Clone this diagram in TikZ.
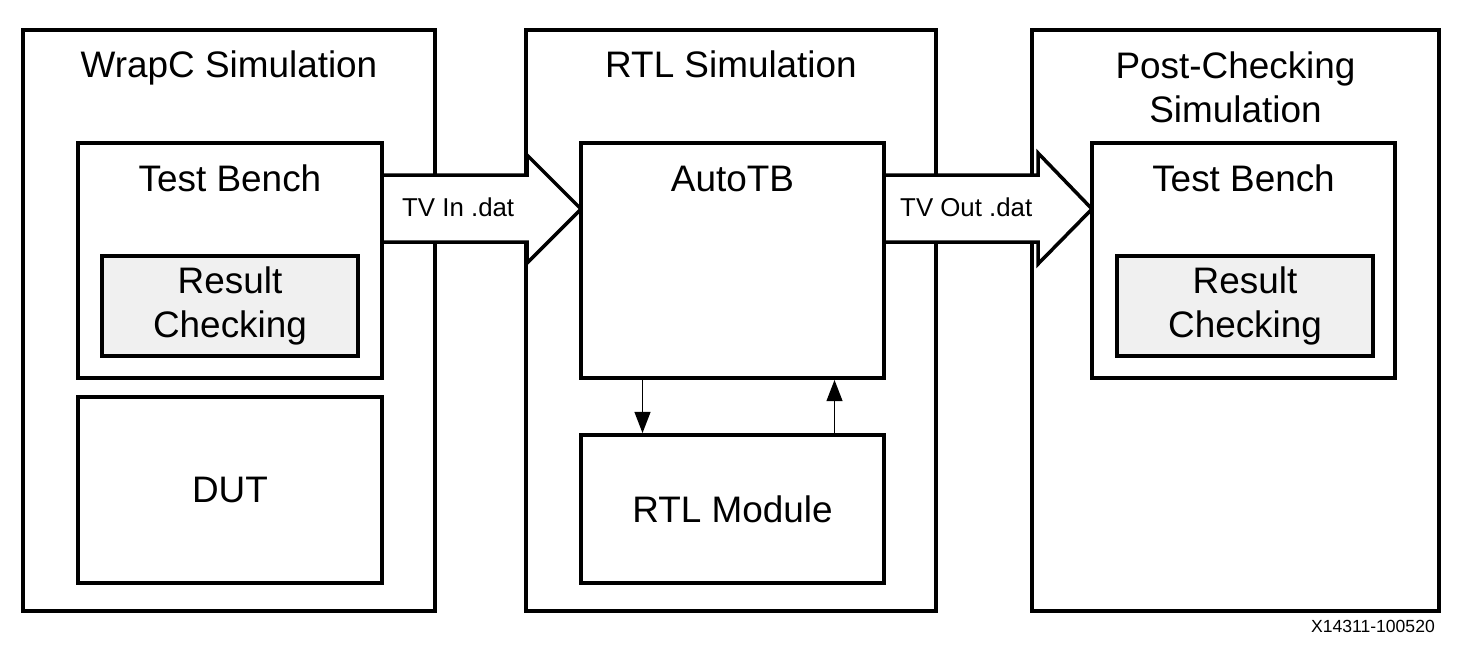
\documentclass[tikz,border=0pt]{standalone}
\usepackage{fontspec}
\setmainfont{Liberation Sans}
\usetikzlibrary{arrows.meta,calc}
\pgfdeclarelayer{background}
\pgfdeclarelayer{flow}
\pgfsetlayers{background,flow,main}
\definecolor{checkgray}{HTML}{F0F0F0}
\tikzset{
	wh/.style 2 args={minimum width=#1*0.02cm,minimum height=#2*0.02cm},
	simbox/.style={draw,line width=2.5pt,inner sep=0pt,outer sep=0pt},
	blockbox/.style={draw,line width=2.3pt,inner sep=0pt,outer sep=0pt,fill=white,align=center,bigtext},
	checkbox/.style={blockbox,fill=checkgray},
	bigarrow/.style={draw,fill=white,line width=2pt,line join=miter},
	bigtext/.style={font=\fontsize{21}{25}\selectfont},
	arrowtext/.style={font=\fontsize{14.7}{17}\selectfont},
}
\begin{document}
\begin{tikzpicture}[x=0.02cm,y=-0.02cm,line join=miter,>={Triangle[length=12pt,width=9pt]}]
			\useasboundingbox (0,0) rectangle (1469,650);
			% the three simulation stages
			\begin{pgfonlayer}{background}
				\node[simbox,wh={412}{581}] (wrapc) at (229,320.5) {};
				\node[simbox,wh={410}{581}] (rtlsim) at (731,320.5) {};
				\node[simbox,wh={407}{581}] (postsim) at (1235.5,320.5) {};
				\node[bigtext,anchor=base] (wrapcT) at ($(wrapc.north)+(0,47)$) {WrapC Simulation};
				\node[bigtext,anchor=base] (rtlsimT) at ($(rtlsim.north)+(0,47)$) {RTL Simulation};
				\node[bigtext,anchor=base,align=center] (postsimT) at ($(postsim.north)+(0,92)$) {Post-Checking\\Simulation};
			\end{pgfonlayer}
			% blocks
			\node[blockbox,wh={304}{235}] (tbA) at (230,260.5) {};
			\node[checkbox,wh={256}{100}] (rcA) at (230,306) {Result\\Checking};
			\node[blockbox,wh={304}{186}] (dut) at (230,490) {DUT};
			\node[blockbox,wh={303}{235}] (autotb) at (732.5,260.5) {};
			\node[blockbox,wh={303}{148}] (rtlmod) at (732.5,509) {RTL Module};
			\node[blockbox,wh={303}{235}] (tbB) at (1243.5,260.5) {};
			\node[checkbox,wh={256}{100}] (rcB) at (1245,306) {Result\\Checking};
			\node[bigtext,anchor=base] (tbAT) at ($(tbA.north)+(0,48)$) {Test Bench};
			\node[bigtext,anchor=base] (autotbT) at ($(autotb.north)+(0,48)$) {AutoTB};
			\node[bigtext,anchor=base] (tbBT) at ($(tbB.north)+(0,48)$) {Test Bench};
			% test vector files
			\begin{pgfonlayer}{flow}
				\draw[bigarrow] (tbA.east |- 0,175) -- (527,175) -- (527,155) -- (autotb.west |- 0,209) -- (527,263) -- (527,242) -- (tbA.east |- 0,242);
				\draw[bigarrow] (autotb.east |- 0,175) -- (1038,175) -- (1038,153) -- (tbB.west |- 0,209) -- (1038,264) -- (1038,242) -- (autotb.east |- 0,242);
			\end{pgfonlayer}
			\node[arrowtext,anchor=base west] (tvin) at (396,216) {TV In .dat};
			\node[arrowtext,anchor=base west] (tvout) at (894,216) {TV Out .dat};
			% AutoTB <-> RTL Module
			\draw[->,line width=0.9pt,shorten >=1.1pt] ($(autotb.south)+(-90,0)$) -- ($(rtlmod.north)+(-90,0)$);
			\draw[->,line width=0.9pt,shorten >=1.1pt] ($(rtlmod.north)+(102,0)$) -- ($(autotb.south)+(102,0)$);
			%	\draw[help lines] (0,0) grid[step=50] (1469,650);
			\node[font=\fontsize{10}{12}\selectfont,anchor=base east] (fignum) at (1441,632) {X14311-100520};
\end{tikzpicture}
\end{document}
